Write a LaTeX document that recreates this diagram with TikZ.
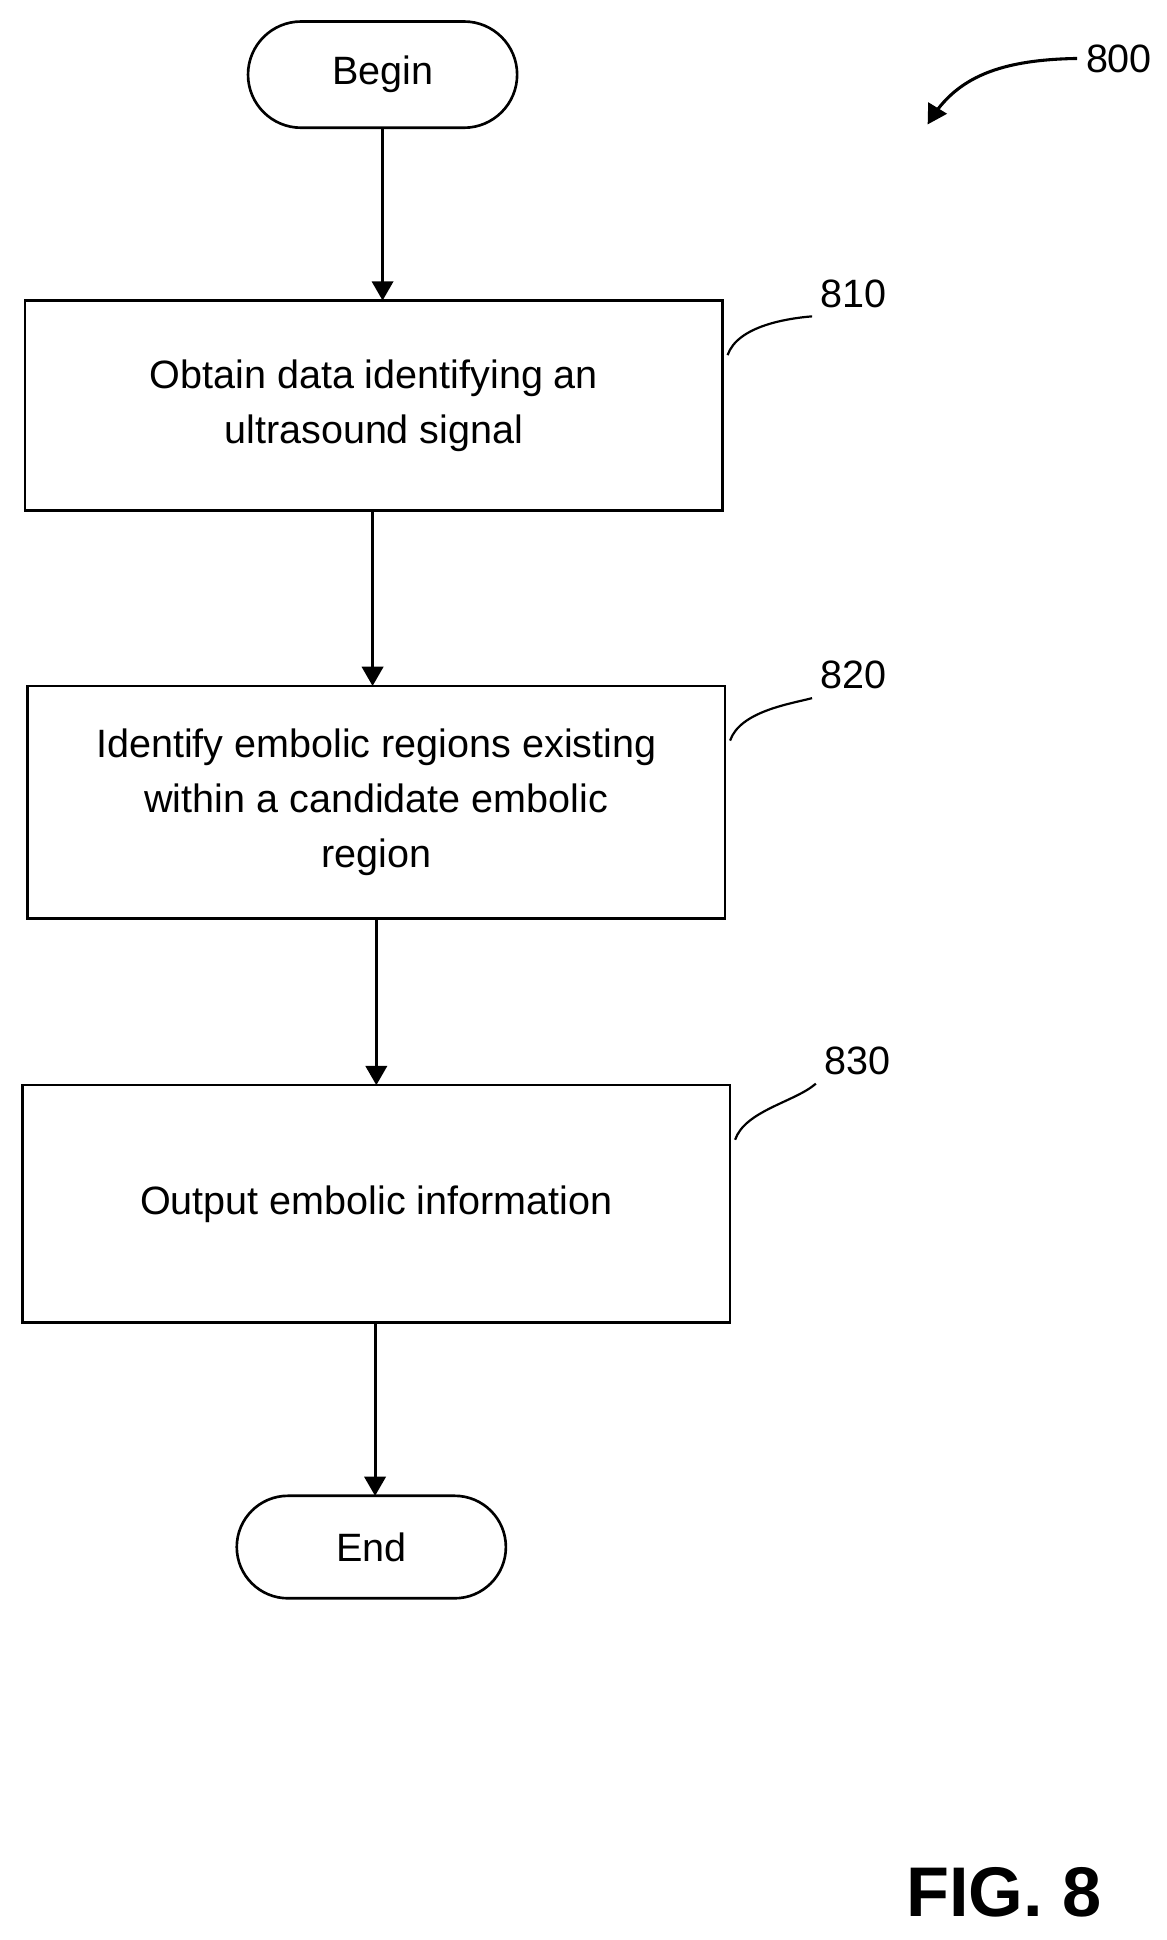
\documentclass[tikz,border=0pt]{standalone}
\usepackage{fontspec}
\setmainfont{Liberation Sans}
\usetikzlibrary{positioning}
\usetikzlibrary{arrows}
\usetikzlibrary{shapes.misc}

\begin{document}
\begin{tikzpicture}[>=triangle 60,x=0.02cm,y=-0.0199cm,line width=1.4pt,font=\fontsize{18}{25}\selectfont]
	\useasboundingbox (0,0) rectangle (933,1560);
	\tikzset{stepbox/.style={draw=black,line width=1.2pt,align=center,outer sep=0pt,inner sep=0pt},
		term/.style={draw=black,line width=1.2pt,rounded rectangle,outer sep=0pt,minimum width=4.54cm,minimum height=1.7cm}}

	\node [term] at (306,60) (begin) {Begin};
	\node [stepbox,minimum width=11.16cm,minimum height=3.36cm] at (299,326) (s810) {Obtain data identifying an\\ultrasound signal};
	\node [stepbox,minimum width=11.16cm,minimum height=3.72cm] at (301,645) (s820) {Identify embolic regions existing\\within a candidate embolic\\region};
	\node [stepbox,minimum width=11.32cm,minimum height=3.8cm] at (301,968) (s830) {Output embolic information};
	\node [term,minimum height=1.64cm] at (297,1244) (end) {End};

	\coordinate (a810) at (298,410);
	\coordinate (a830) at (300,1063);
	\draw[->] (begin.south) -- (begin.south|-s810.north);
	\draw[->] (a810) -- (a810|-s820.north);
	\draw[->] (s820.south) -- (s820.south|-s830.north);
	\draw[->] (a830) -- (a830|-end.north);

	\node at (683,236) (l810) {810};
	\node at (683,543) (l820) {820};
	\node at (686,853) (l830) {830};
	\node at (895,47) (l800) {800};
	\draw[line width=1pt] (s810.north east) ++(4,44) coordinate (c810) .. controls (590,262) and (630,256) .. (l810.south west);
	\draw[line width=1pt] (s820.north east) ++(4,44) coordinate (c820) .. controls (592,572) and (632,566) .. (l820.south west);
	\draw[line width=1pt] (s830.north east) ++(4,44) coordinate (c830) .. controls (596,893) and (636,886) .. (l830.south west);
	\coordinate (t800) at (742,100);
	\draw[->] (l800.west) .. controls (800,48) and (765,62) .. (t800);

	\node [font=\fontsize{32}{38}\selectfont\bfseries] at (803,1522) (fig) {FIG. 8};
\end{tikzpicture}
\end{document}
